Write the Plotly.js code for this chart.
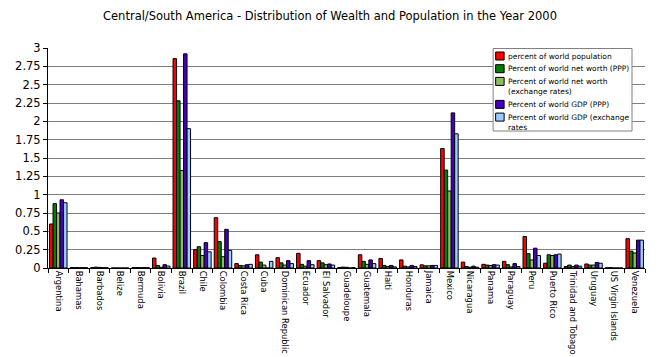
<!DOCTYPE html>
<html>
<head>
<meta charset="utf-8">
<script src="https://cdn.plot.ly/plotly-3.0.1.min.js"></script>
<style>html,body{margin:0;padding:0;background:#fff;}#chart{width:660px;height:357px;}</style>
</head>
<body>
<div id="chart"></div>
<script>
const countries = ["Argentina","Bahamas","Barbados","Belize","Bermuda","Bolivia","Brazil","Chile","Colombia","Costa Rica","Cuba","Dominican Republic","Ecuador","El Salvador","Guadeloupe","Guatemala","Haiti","Honduras","Jamaica","Mexico","Nicaragua","Panama","Paraguay","Peru","Puerto Rico","Trinidad and Tobago","Uruguay","US Virgin Islands","Venezuela"];
const popShare      = [0.60,0.005,0.005,0,0.005,0.136,2.855,0.25,0.686,0.06,0.18,0.14,0.20,0.10,0.007,0.18,0.13,0.11,0.043,1.63,0.08,0.05,0.09,0.43,0.065,0.02,0.055,0.003,0.40];
const netWorthPPP   = [0.877,0.005,0.012,0,0.005,0.035,2.28,0.29,0.36,0.035,0.08,0.07,0.05,0.07,0.012,0.09,0.035,0.025,0.03,1.335,0.02,0.04,0.045,0.195,0.18,0.04,0.04,0.005,0.23];
const netWorthFX    = [0.75,0.005,0.008,0,0.005,0.01,1.33,0.17,0.154,0.03,0.04,0.04,0.025,0.045,0.01,0.05,0.02,0.015,0.03,1.05,0.01,0.035,0.015,0.11,0.17,0.02,0.04,0,0.205];
const gdpPPP        = [0.93,0.005,0.005,0,0.005,0.045,2.92,0.345,0.527,0.045,0,0.10,0.10,0.055,0,0.11,0.035,0.035,0.035,2.115,0.025,0.045,0.06,0.27,0.18,0.04,0.075,0,0.38];
const gdpFX         = [0.89,0.005,0.005,0,0.005,0.027,1.90,0.22,0.24,0.05,0.09,0.06,0.045,0.04,0.005,0.06,0.015,0.02,0.035,1.83,0.01,0.04,0.02,0.17,0.19,0.025,0.065,0,0.38];
const seriesNames = ["percent of world population","Percent of world net worth (PPP)","Percent of world net worth<br>(exchange rates)","Percent of world GDP (PPP)","Percent of world GDP (exchange<br>rates"];
const seriesColors = ["#ff0000","#007f00","#8cbc5c","#4400bb","#99ccff"];
const yTicks = [0,0.25,0.5,0.75,1,1.25,1.5,1.75,2,2.25,2.5,2.75,3];
const yTickText = ["0","0.25","0.5","0.75","1","1.25","1.5","1.75","2","2.25","2.5","2.75","3"];

const W = 660, H = 357, ML = 47.5, MR = 15, MT = 48, MB = 89;
const PW = W - ML - MR, PH = H - MT - MB;
const px2x = p => (p - ML) / PW;
const px2y = p => (H - MB - p) / PH;

const seriesValues = [popShare, netWorthPPP, netWorthFX, gdpPPP, gdpFX];
const traces = seriesValues.map((vals, i) => ({
  type: "bar",
  x: countries,
  y: vals,
  name: seriesNames[i].replace("<br>", " "),
  marker: {color: seriesColors[i], line: {color: "#000", width: 1}},
  showlegend: false
}));

// custom legend (box + swatches + text) in paper coordinates
const shapes = [{type: "rect", xref: "paper", yref: "paper", layer: "above",
  x0: px2x(493), x1: px2x(632), y0: px2y(48.5), y1: px2y(131),
  fillcolor: "#fff", line: {color: "#808080", width: 1}}];
const annotations = [];
let cy = 56;
seriesNames.forEach((nm, i) => {
  shapes.push({type: "rect", xref: "paper", yref: "paper", layer: "above",
    x0: px2x(495.5), x1: px2x(504), y0: px2y(cy - 4), y1: px2y(cy + 4),
    fillcolor: seriesColors[i], line: {color: "#000", width: 1}});
  const lines = nm.split("<br>");
  lines.forEach((ln, j) => {
    annotations.push({xref: "paper", yref: "paper", x: px2x(506), y: px2y(cy + j * 10.5),
      xanchor: "left", yanchor: "middle", showarrow: false, text: ln,
      font: {family: "DejaVu Sans", size: 7.5, color: "#000"}});
  });
  cy += lines.length > 1 ? 23 : 12.7;
});

const layout = {
  width: W, height: H,
  margin: {l: ML, r: MR, t: MT, b: MB},
  paper_bgcolor: "#fff", plot_bgcolor: "#fff",
  font: {family: "DejaVu Sans", color: "#000"},
  title: {text: "Central/South America - Distribution of Wealth and Population in the Year 2000",
          font: {family: "DejaVu Sans", size: 11.5, color: "#000"}, x: 0.5, xanchor: "center", y: 0.955, yanchor: "middle"},
  barmode: "group", bargap: 0.15, bargroupgap: 0,
  showlegend: false,
  shapes: shapes,
  annotations: annotations,
  xaxis: {type: "category", tickangle: 90, tickfont: {family: "DejaVu Sans", size: 8.4, color: "#000"},
          showline: true, linecolor: "#000", linewidth: 1, ticks: "outside", ticklen: 4, tickcolor: "#000",
          tickson: "boundaries", showgrid: false, zeroline: false, automargin: false},
  yaxis: {range: [0, 3], tickvals: yTicks, ticktext: yTickText, tickfont: {family: "DejaVu Sans", size: 11.5, color: "#000"},
          showline: true, linecolor: "#000", linewidth: 1, ticks: "outside", ticklen: 4, tickcolor: "#000",
          showgrid: true, gridcolor: "#7f7f7f", gridwidth: 1, zeroline: false, automargin: false}
};

Plotly.newPlot("chart", traces, layout, {staticPlot: true, displayModeBar: false});
</script>
</body>
</html>
